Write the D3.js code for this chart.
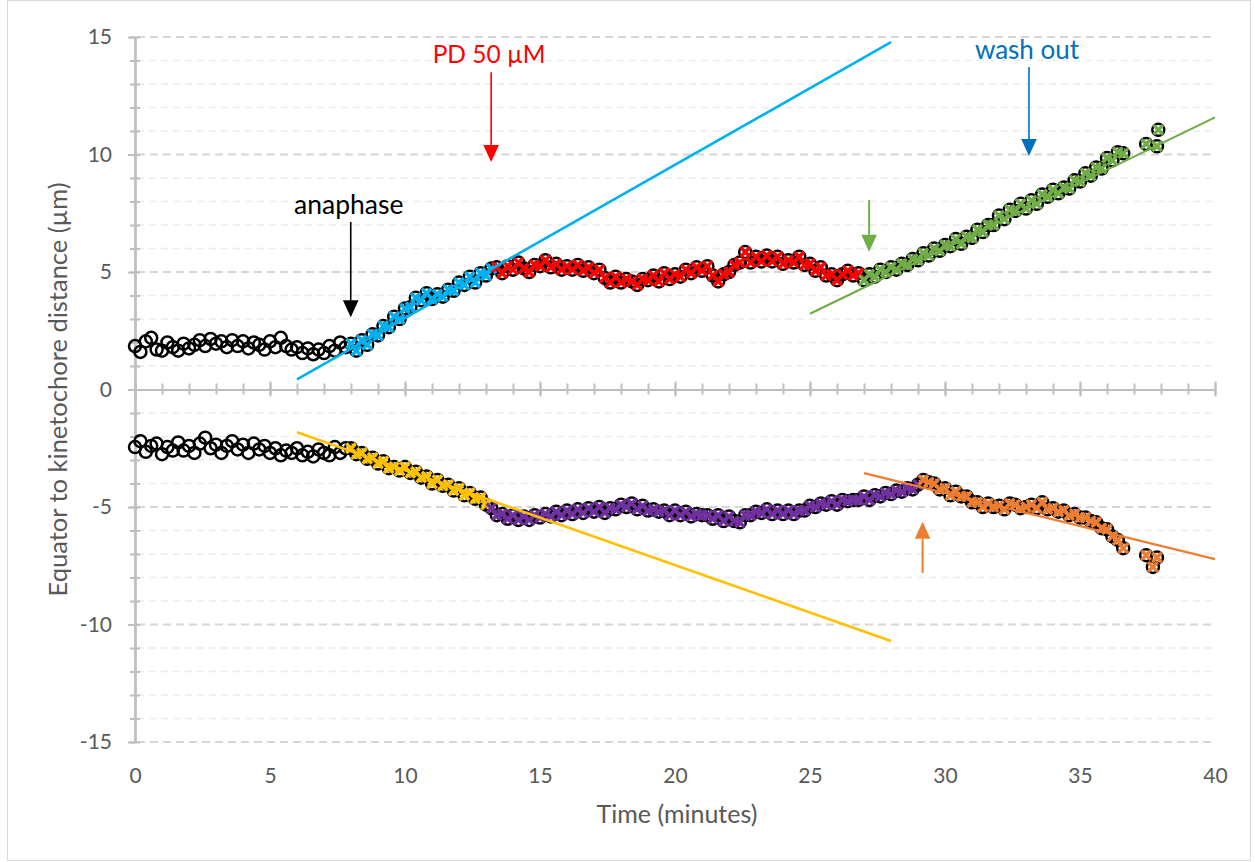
<!DOCTYPE html>
<html>
<head>
<meta charset="utf-8">
<script src="https://cdn.jsdelivr.net/npm/d3@7/dist/d3.min.js"></script>
<style>
body { margin: 0; background: #fff; }
svg text { font-family: Lato, "Open Sans", sans-serif; }
</style>
</head>
<body>
<div id="chart"></div>
<script>

// time-lapse frame interval (minutes)
var frameStep = 0.2;

// upper kinetochore (um), one value per frame
var upperPre = [1.85,1.6,2.05,2.2,1.7,1.65,2.0,1.8,1.65,1.95,
    1.75,1.9,2.1,1.85,2.15,1.95,2.05,1.8,2.1,1.85,
    2.05,1.75,2.0,1.9,1.7,2.05,1.8,2.2,1.85,1.7,
    1.8,1.55,1.75,1.5,1.7,1.55,1.85,1.65,2.0,1.8];
var upperAna = [1.95,1.65,2.1,1.9,2.35,2.3,2.7,2.65,3.1,3.0,3.45,3.5,3.9,3.8,4.1,3.85,4.05,3.95,4.25,4.2,
    4.55,4.45,4.8,4.55,4.95,4.85,5.15];
var upperPD = [5.2,4.95,5.25,5.1,5.4,5.15,5.0,5.3,5.25,5.5,5.2,5.35,5.1,5.25,5.1,5.3,5.05,5.2,4.95,5.1,
    4.75,4.55,4.8,4.55,4.7,4.6,4.45,4.7,4.65,4.85,4.6,4.95,4.7,4.9,4.8,5.1,4.95,5.2,5.05,5.25,
    4.85,4.6,4.9,5.0,5.3,5.4,5.85,5.4,5.65,5.45,5.7,5.45,5.65,5.35,5.5,5.4,5.65,5.3,5.35,5.05,
    5.2,4.85,4.9,4.65,4.9,5.05,4.85,4.95];
var upperWash = [4.65,4.9,4.8,5.1,5.0,5.2,5.1,5.35,5.3,5.55,5.5,5.8,5.7,6.0,5.9,6.15,6.1,6.4,6.2,6.5,
    6.45,6.8,6.7,7.0,7.0,7.4,7.25,7.65,7.6,7.9,7.7,8.05,7.9,8.3,8.2,8.5,8.35,8.6,8.55,8.9,
    8.85,9.2,9.1,9.45,9.4,9.85,9.75,10.1,10.05];
var upperTail = [[37.45, 10.45], [37.85, 10.35], [37.9, 11.05]];

// lower kinetochore (um)
var lowerPre = [-2.45,-2.2,-2.65,-2.4,-2.3,-2.75,-2.45,-2.6,-2.25,-2.6,
    -2.4,-2.7,-2.3,-2.05,-2.5,-2.35,-2.7,-2.4,-2.2,-2.55,
    -2.35,-2.7,-2.3,-2.55,-2.4,-2.7,-2.5,-2.8,-2.6,-2.7,
    -2.5,-2.8,-2.65,-2.85,-2.55,-2.7,-2.8,-2.45,-2.7,-2.5];
var lowerAna = [-2.5,-2.75,-2.7,-2.95,-2.9,-3.15,-3.05,-3.35,-3.3,-3.45,-3.3,-3.55,-3.5,-3.75,-3.7,-4.0,-3.85,-4.1,-4.05,-4.3,
    -4.2,-4.5,-4.4,-4.65,-4.6,-4.9];
var lowerPD = [-5.05,-5.35,-5.3,-5.5,-5.35,-5.55,-5.4,-5.55,-5.35,-5.45,
    -5.3,-5.4,-5.2,-5.35,-5.15,-5.3,-5.1,-5.25,-5.05,-5.2,
    -5.0,-5.25,-5.05,-5.1,-4.9,-5.0,-4.85,-5.1,-4.95,-5.15,
    -5.1,-5.2,-5.15,-5.35,-5.15,-5.35,-5.2,-5.4,-5.3,-5.35,
    -5.35,-5.5,-5.35,-5.6,-5.4,-5.6,-5.65,-5.35,-5.35,-5.2,
    -5.25,-5.1,-5.3,-5.15,-5.3,-5.15,-5.3,-5.15,-5.15,-4.95,
    -5.0,-4.85,-4.9,-4.75,-4.9,-4.7,-4.75,-4.7,-4.7,-4.55,
    -4.7,-4.5,-4.55,-4.4,-4.45,-4.3,-4.35,-4.2,-4.25,-4.05];
var lowerWash = [-3.85,-3.95,-4.0,-4.25,-4.2,-4.5,-4.35,-4.55,-4.55,-4.8,-4.8,-5.0,-4.85,-5.0,-4.95,-5.1,-4.85,-4.9,-5.05,-5.0,
    -4.9,-5.05,-4.8,-5.1,-5.05,-5.2,-5.15,-5.35,-5.3,-5.45,-5.45,-5.6,-5.65,-5.9,-5.95,-6.25,-6.4,-6.75];
var lowerTail = [[37.45, -7.05], [37.85, -7.15], [37.7, -7.55]];

// first frame time of each segment (minutes)
var segStart = { pre: 0, ana: 8.0, upperPD: 13.4, lowerPD: 13.2, upperWash: 27.0, lowerWash: 29.2 };

// linear fits: [t, value] end points
var fitUpperAna = [[6, 0.43], [28, 14.78]];
var fitUpperWash = [[25, 3.22], [40, 11.58]];
var fitLowerAna = [[6, -1.82], [28, -10.7]];
var fitLowerWash = [[27, -3.56], [40, -7.22]];

var xTicks = [0, 5, 10, 15, 20, 25, 30, 35, 40];
var yTicks = [-15, -10, -5, 0, 5, 10, 15];

// annotations: label, time, arrow from / to (um)
var notes = [
    { label: "anaphase", t: 7.99, from: 7.13, to: 3.07, ty: 7.45, color: "#000000", size: 26.5 },
    { label: "PD 50 \u00b5M", t: 13.19, from: 13.5, to: 9.68, ty: 13.9, color: "#FF0000", size: 24.5 },
    { label: "wash out", t: 33.11, from: 13.72, to: 9.94, ty: 14.08, color: "#0070C0", size: 26 },
    { label: "", t: 27.19, from: 8.06, to: 5.86, ty: 0, color: "#70AD47", size: 0 },
    { label: "", t: 29.17, from: -7.81, to: -5.63, ty: 0, color: "#ED7D31", size: 0 }
];

var svgWidth = 1255, svgHeight = 862;
var svg = d3.select("#chart").append("svg").attr("width", svgWidth).attr("height", svgHeight);

svg.append("rect").attr("x", 7.5).attr("y", 0.5).attr("width", 1243).attr("height", 860)
    .attr("fill", "#fff").attr("stroke", "#D9D9D9").attr("stroke-width", 1);

var x = d3.scaleLinear().domain([0, 40]).range([135, 1215]);
var y = d3.scaleLinear().domain([-15, 15]).range([742, 37]);

function toPoints(values, start) {
    return values.map(function (v, i) { return { t: start + i * frameStep, v: v }; });
}
function tailPoints(list) {
    return list.map(function (d) { return { t: d[0], v: d[1] }; });
}

var upAna = toPoints(upperAna, segStart.ana);
var upPD = toPoints(upperPD, segStart.upperPD);
var upWash = toPoints(upperWash, segStart.upperWash).concat(tailPoints(upperTail));
var loAna = toPoints(lowerAna, segStart.ana);
var loPD = toPoints(lowerPD, segStart.lowerPD);
var loWash = toPoints(lowerWash, segStart.lowerWash).concat(tailPoints(lowerTail));
var allPoints = toPoints(upperPre, segStart.pre).concat(upAna, upPD, upWash,
    toPoints(lowerPre, segStart.pre), loAna, loPD, loWash);

// gridlines
var minorY = d3.range(-15, 16).filter(function (d) { return d % 5 !== 0; });
var majorY = yTicks.filter(function (d) { return d !== 0; });

svg.append("g").selectAll("line").data(minorY).enter().append("line")
    .attr("x1", x(0) + 2).attr("x2", x(40)).attr("y1", function (d) { return y(d); }).attr("y2", function (d) { return y(d); })
    .attr("stroke", "#ECECEC").attr("stroke-width", 1.5).attr("stroke-dasharray", "7,5");
svg.append("g").selectAll("line").data(majorY).enter().append("line")
    .attr("x1", x(0) + 2).attr("x2", x(40)).attr("y1", function (d) { return y(d); }).attr("y2", function (d) { return y(d); })
    .attr("stroke", "#D6D6D6").attr("stroke-width", 2).attr("stroke-dasharray", "8,5");

// axes (ticks cross the axis lines)
function styleAxis(g) {
    g.selectAll("path.domain").attr("stroke", "#BFBFBF").attr("stroke-width", 2);
    g.selectAll(".tick line").attr("stroke", "#BFBFBF").attr("stroke-width", 2);
    g.selectAll("text").attr("fill", "#595959").style("font-size", "21px").style("font-family", "Lato, sans-serif");
}
var fmt = function (d) { return String(d); };
var minorYAll = d3.range(-15, 16);
var minorX = d3.range(0, 41);

var yAxisG = svg.append("g").attr("transform", "translate(" + x(0) + ",0)");
yAxisG.append("g").call(d3.axisLeft(y).tickValues(minorYAll).tickSize(5).tickSizeOuter(0).tickFormat("")).call(styleAxis);
yAxisG.append("g").call(d3.axisRight(y).tickValues(minorYAll).tickSize(5).tickSizeOuter(0).tickFormat("")).call(styleAxis);
yAxisG.append("g").call(d3.axisLeft(y).tickValues(yTicks).tickSize(7).tickSizeOuter(0).tickPadding(16).tickFormat(fmt)).call(styleAxis);

var xAxisG = svg.append("g").attr("transform", "translate(0," + y(0) + ")");
xAxisG.append("g").call(d3.axisBottom(x).tickValues(minorX).tickSize(5).tickSizeOuter(0).tickFormat("")).call(styleAxis);
xAxisG.append("g").call(d3.axisTop(x).tickValues(minorX).tickSize(6).tickSizeOuter(0).tickFormat("")).call(styleAxis);
xAxisG.append("g").call(d3.axisBottom(x).tickValues(xTicks).tickSize(7).tickSizeOuter(0).tickFormat("")).call(styleAxis);
xAxisG.append("g").call(d3.axisTop(x).tickValues(xTicks).tickSize(8).tickSizeOuter(0).tickFormat("")).call(styleAxis);

// x labels sit below the plot
var xLab = svg.append("g").attr("transform", "translate(0," + y(-15) + ")")
    .call(d3.axisBottom(x).tickValues(xTicks).tickSize(0).tickPadding(26).tickFormat(fmt));
xLab.select("path.domain").remove();
xLab.call(styleAxis);

// axis titles
svg.append("text").attr("x", 677).attr("y", 823).attr("text-anchor", "middle")
    .attr("fill", "#595959").style("font-size", "25px").text("Time (minutes)");
svg.append("text").attr("transform", "translate(67," + y(0) + ") rotate(-90)").attr("text-anchor", "middle")
    .attr("fill", "#595959").style("font-size", "25.5px").text("Equator to kinetochore distance (\u00b5m)");

// open circles for every frame
svg.append("g").selectAll("circle").data(allPoints).enter().append("circle")
    .attr("cx", function (d) { return x(d.t); }).attr("cy", function (d) { return y(d.v); })
    .attr("r", 6).attr("fill", "none").attr("stroke", "#000").attr("stroke-width", 2.5);

// coloured phase markers
var phases = [
    { pts: upAna, color: "#00B0F0" }, { pts: upPD, color: "#FF0000" }, { pts: upWash, color: "#70AD47" },
    { pts: loAna, color: "#FFC000" }, { pts: loPD, color: "#7030A0" }, { pts: loWash, color: "#ED7D31" }
];
var cross = d3.symbol().type(d3.symbolX).size(60);
phases.forEach(function (p) {
    svg.append("g").selectAll("path").data(p.pts).enter().append("path")
        .attr("transform", function (d) { return "translate(" + x(d.t) + "," + y(d.v) + ")"; })
        .attr("d", cross).attr("fill", "none").attr("stroke", p.color).attr("stroke-width", 3.4);
});

// linear fits
var line = d3.line().x(function (d) { return x(d[0]); }).y(function (d) { return y(d[1]); });
[[fitUpperAna, "#00B0F0", 2.6], [fitUpperWash, "#70AD47", 2.2], [fitLowerAna, "#FFC000", 2.6], [fitLowerWash, "#ED7D31", 2.2]]
    .forEach(function (f) {
        svg.append("path").attr("d", line(f[0])).attr("fill", "none").attr("stroke", f[1]).attr("stroke-width", f[2]);
    });

// arrows and notes
notes.forEach(function (n) {
    var ax = x(n.t), y0 = y(n.from), y1 = y(n.to);
    var dir = y1 > y0 ? 1 : -1;
    var headLen = 17, half = 7.8;
    svg.append("line").attr("x1", ax).attr("x2", ax).attr("y1", y0).attr("y2", y1 - dir * headLen)
        .attr("stroke", n.color).attr("stroke-width", n.label ? 1.6 : 2);
    svg.append("path")
        .attr("d", "M" + (ax - half) + "," + (y1 - dir * headLen) + "L" + (ax + half) + "," + (y1 - dir * headLen) + "L" + ax + "," + y1 + "Z")
        .attr("fill", n.color);
    if (n.label) {
        svg.append("text").attr("x", ax - 2).attr("y", y(n.ty)).attr("text-anchor", "middle")
            .attr("fill", n.color).style("font-size", n.size + "px").text(n.label);
    }
});

</script>
</body>
</html>
